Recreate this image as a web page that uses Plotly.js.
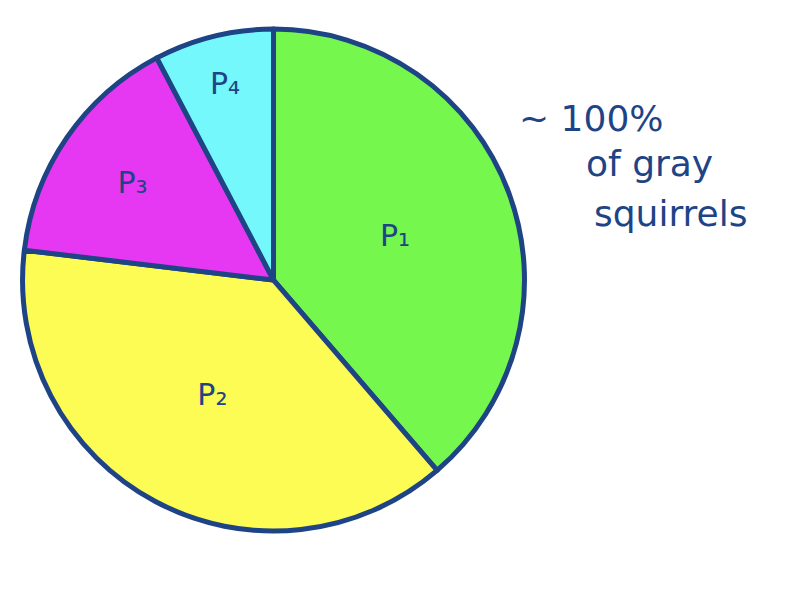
<!DOCTYPE html>
<html>
<head>
<meta charset="utf-8">
<script src="https://cdn.plot.ly/plotly-3.0.1.min.js"></script>
<style>html,body{margin:0;padding:0;background:#fff;}#chart{width:798px;height:594px;}</style>
</head>
<body>
<div id="chart"></div>
<script>
const labels = ["P1", "P2", "P3", "P4"];
const labelText = ["P\u2081", "P\u2082", "P\u2083", "P\u2084"];
const values = [38.7, 38.2, 15.4, 7.7];
const colors = ["#76f74e", "#fcfc55", "#e637f2", "#74f8fc"];
const noteLines = ["~ 100%", "of gray", "squirrels"];

const ink = "#1e4486";
const data = [{
  type: "pie",
  labels: labels,
  values: values,
  text: labelText,
  textinfo: "text",
  textposition: "inside",
  insidetextorientation: "horizontal",
  textfont: {family: "DejaVu Sans", size: 30, color: ink},
  sort: false,
  direction: "clockwise",
  rotation: 0,
  marker: {colors: colors, line: {color: ink, width: 5}},
  domain: {x: [0.0282, 0.6573], y: [0.106, 0.951]},
  hoverinfo: "none",
  showlegend: false
}];

const notePos = [[0.648, 0.80], [0.732, 0.725], [0.742, 0.64]];
const layout = {
  width: 798, height: 594,
  margin: {l: 0, r: 0, t: 0, b: 0},
  paper_bgcolor: "#ffffff",
  showlegend: false,
  annotations: noteLines.map((t, i) => ({
    xref: "paper", yref: "paper",
    x: notePos[i][0], y: notePos[i][1], xanchor: "left", yanchor: "middle",
    text: t, showarrow: false, align: "left",
    font: {family: "DejaVu Sans", size: 36, color: ink}
  }))
};
Plotly.newPlot("chart", data, layout, {displayModeBar: false, staticPlot: true});
</script>
</body>
</html>
